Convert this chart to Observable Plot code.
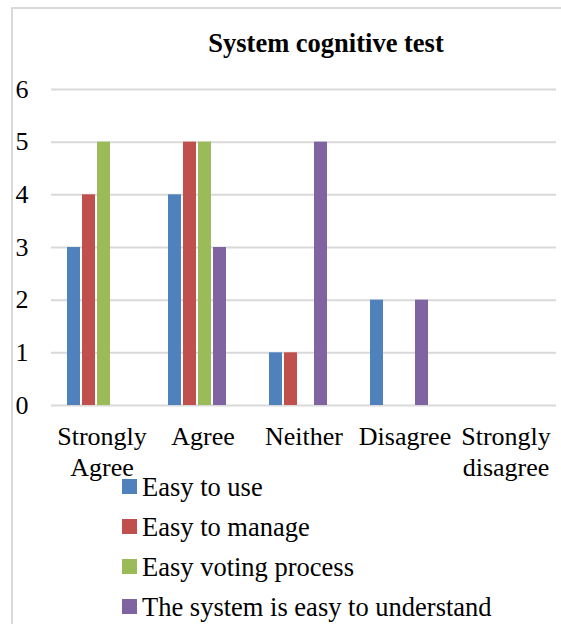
<!DOCTYPE html>
<html><head><meta charset="utf-8">
<script src="https://cdn.jsdelivr.net/npm/d3@7"></script>
<script src="https://cdn.jsdelivr.net/npm/@observablehq/plot@0.6"></script>
<style>
body{margin:0;background:#fff;}
#wrap{position:relative;width:561px;height:624px;overflow:hidden;font-family:"Liberation Serif","Times New Roman",Times,"DejaVu Serif",serif;color:#000;background:#fff;}
#frame{position:absolute;left:11px;top:7px;width:600px;height:700px;border-left:2px solid #d9d9d9;border-top:2px solid #d9d9d9;}
#chart{position:absolute;left:0;top:0;}
#title{position:absolute;top:30px;left:326px;font-weight:bold;font-size:26.5px;line-height:26px;white-space:nowrap;transform:translateX(-50%);}
.lg{position:absolute;left:122px;height:26px;white-space:nowrap;}
.sw{position:absolute;left:0;width:15px;height:15px;}
.lt{position:absolute;left:20px;top:0;font-size:26.5px;line-height:26px;}
</style>
</head><body>
<div id="wrap">
<div id="frame"></div>
<div id="chart"></div>
<div id="title">System cognitive test</div>
<div id="legend"></div>
</div>
<script>
const categories = ["Strongly Agree", "Agree", "Neither", "Disagree", "Strongly disagree"];
const categoryLabels = ["Strongly\nAgree", "Agree", "Neither", "Disagree", "Strongly\ndisagree"];
const seriesNames = ["Easy to use", "Easy to manage", "Easy voting process", "The system is easy to understand"];
const seriesColors = ["#4F81BD", "#C0504D", "#9BBB59", "#8064A2"];
const easyToUse = [3, 4, 1, 2, 0];
const easyToManage = [4, 5, 1, 0, 0];
const easyVotingProcess = [5, 5, 0, 0, 0];
const easyToUnderstand = [0, 3, 5, 2, 0];
const yTicks = [0, 1, 2, 3, 4, 5, 6];

const seriesValues = [easyToUse, easyToManage, easyVotingProcess, easyToUnderstand];
const rows = categories.flatMap((c, i) => seriesValues.map((vals, j) => ({category: c, series: seriesNames[j], value: vals[i]})));
const serif = '"Liberation Serif","Times New Roman",Times,"DejaVu Serif",serif';

const chart = Plot.plot({
  width: 561, height: 480,
  marginLeft: 50, marginRight: 5, marginTop: 89, marginBottom: 75,
  fx: {domain: categories, padding: 0, label: null},
  x: {domain: seriesNames, paddingInner: 0.147, paddingOuter: 1.27, align: 0.373, axis: null},
  y: {domain: [0, 6], label: null},
  color: {domain: seriesNames, range: seriesColors},
  style: {fontFamily: serif, fontSize: "26px", color: "#000", background: "transparent", overflow: "visible"},
  marks: [
    Plot.gridY(yTicks, {stroke: "#d9d9d9", strokeOpacity: 1, strokeWidth: 2}),
    Plot.barY(rows, {fx: "category", x: "series", y: "value", fill: "series"}),
    Plot.axisY(yTicks, {tickSize: 0, tickPadding: 23, fontSize: 26, label: null, tickFormat: d => String(d)}),
    Plot.axisFx({anchor: "bottom", tickSize: 0, tickPadding: 18, fontSize: 26, lineHeight: 1.17,
      tickFormat: c => categoryLabels[categories.indexOf(c)], label: null})
  ]
});
document.getElementById("chart").appendChild(chart);

const legend = document.getElementById("legend");
seriesNames.forEach((name, i) => {
  const row = document.createElement("div");
  row.className = "lg";
  row.style.top = (474 + 40 * i) + "px";
  const sw = document.createElement("div");
  sw.className = "sw";
  sw.style.background = seriesColors[i];
  sw.style.top = "5px";
  const tx = document.createElement("div");
  tx.className = "lt";
  tx.textContent = name;
  row.appendChild(sw); row.appendChild(tx);
  legend.appendChild(row);
});
</script>
</body></html>
